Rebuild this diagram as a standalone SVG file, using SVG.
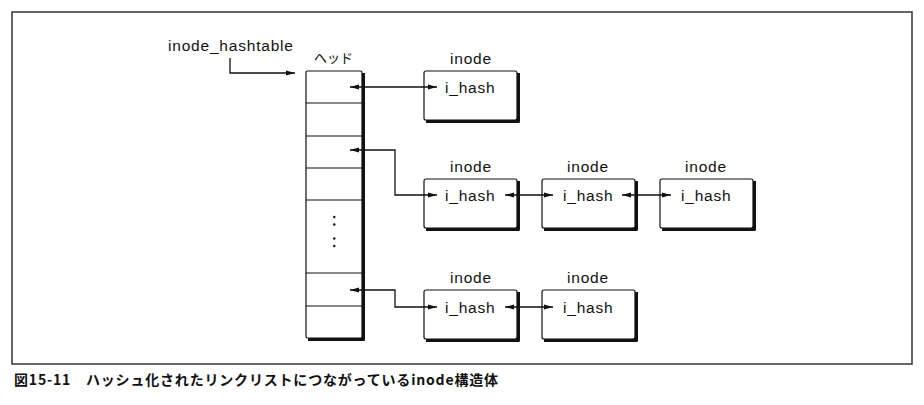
<svg xmlns="http://www.w3.org/2000/svg" width="924" height="405" viewBox="0 0 924 405">
<style>
.bg{fill:#fff}
.frame{fill:none;stroke:#333;stroke-width:1.5}
.box{fill:#fff;stroke:#111;stroke-width:1.2}
.shadow{fill:none;stroke:#111;stroke-width:3;stroke-linejoin:round}
.row{stroke:#111;stroke-width:1.1}
.lbl{font-family:"Liberation Sans",Arial,sans-serif;font-size:15.5px;letter-spacing:0.8px;fill:#111}
.jp{font-family:"Noto Sans CJK JP",sans-serif;font-size:13.5px;fill:#111}
.cap{font-family:"Noto Sans CJK JP",sans-serif;font-size:14px;font-weight:bold;fill:#111}
.conn{fill:none;stroke:#111;stroke-width:1.3}
.dot{fill:#111}
</style>
<defs>
<marker id="ah" markerUnits="userSpaceOnUse" markerWidth="10" markerHeight="7" refX="9" refY="3.5" orient="auto-start-reverse">
<path d="M0,1 L9,3.5 L0,6 z" fill="#111"/>
</marker>
</defs>
<rect class="bg" x="0" y="0" width="924" height="405"/>
<rect class="frame" x="12" y="12" width="900" height="352"/>

<text class="lbl" x="168" y="51">inode_hashtable</text>

<g id="hashtable">
<text class="jp" x="314" y="63" textLength="39" lengthAdjust="spacingAndGlyphs">ヘッド</text>
<rect class="box" x="306" y="71" width="56" height="267" rx="1.5"/>
<path class="shadow" d="M363.5,73 V339.5 H308"/>
<line class="row" x1="306" y1="103" x2="362" y2="103"/>
<line class="row" x1="306" y1="136" x2="362" y2="136"/>
<line class="row" x1="306" y1="168" x2="362" y2="168"/>
<line class="row" x1="306" y1="200" x2="362" y2="200"/>
<line class="row" x1="306" y1="273" x2="362" y2="273"/>
<line class="row" x1="306" y1="306" x2="362" y2="306"/>
<circle class="dot" cx="334.3" cy="217" r="1.2"/>
<circle class="dot" cx="334.3" cy="224.5" r="1.2"/>
<circle class="dot" cx="334.3" cy="238.5" r="1.2"/>
<circle class="dot" cx="334.3" cy="246" r="1.2"/>
</g>

<g id="inode1">
<text class="lbl" x="450" y="63.5">inode</text>
<rect class="box" x="424" y="71" width="93" height="49" rx="2"/>
<path class="shadow" d="M518.5,73 V121.5 H426"/>
<text class="lbl" x="445" y="93">i_hash</text>
</g>

<g id="inode2">
<text class="lbl" x="450" y="171.5">inode</text>
<rect class="box" x="424" y="179" width="93" height="49" rx="2"/>
<path class="shadow" d="M518.5,181 V229.5 H426"/>
<text class="lbl" x="445" y="201">i_hash</text>
</g>

<g id="inode3">
<text class="lbl" x="567" y="171.5">inode</text>
<rect class="box" x="542" y="179" width="93" height="49" rx="2"/>
<path class="shadow" d="M636.5,181 V229.5 H544"/>
<text class="lbl" x="563" y="201">i_hash</text>
</g>

<g id="inode4">
<text class="lbl" x="685" y="171.5">inode</text>
<rect class="box" x="660" y="179" width="93" height="49" rx="2"/>
<path class="shadow" d="M754.5,181 V229.5 H662"/>
<text class="lbl" x="681" y="201">i_hash</text>
</g>

<g id="inode5">
<text class="lbl" x="450" y="283">inode</text>
<rect class="box" x="424" y="290" width="93" height="49" rx="2"/>
<path class="shadow" d="M518.5,292 V340.5 H426"/>
<text class="lbl" x="445" y="312.5">i_hash</text>
</g>

<g id="inode6">
<text class="lbl" x="567" y="283">inode</text>
<rect class="box" x="542" y="290" width="93" height="49" rx="2"/>
<path class="shadow" d="M636.5,292 V340.5 H544"/>
<text class="lbl" x="563" y="312.5">i_hash</text>
</g>

<g id="connectors">
<path class="conn" d="M230,58 V73 H295" marker-end="url(#ah)"/>
<path class="conn" d="M350,87 H437" marker-start="url(#ah)" marker-end="url(#ah)"/>
<path class="conn" d="M350,150 H395 V195 H437" marker-start="url(#ah)" marker-end="url(#ah)"/>
<path class="conn" d="M505,195 H553" marker-start="url(#ah)" marker-end="url(#ah)"/>
<path class="conn" d="M622,195 H671" marker-start="url(#ah)" marker-end="url(#ah)"/>
<path class="conn" d="M350,290 H395 V307 H437" marker-start="url(#ah)" marker-end="url(#ah)"/>
<path class="conn" d="M505,307 H553" marker-start="url(#ah)" marker-end="url(#ah)"/>
</g>

<text class="cap" x="14" y="385" textLength="484" lengthAdjust="spacing">図15-11　ハッシュ化されたリンクリストにつながっているinode構造体</text>
</svg>
